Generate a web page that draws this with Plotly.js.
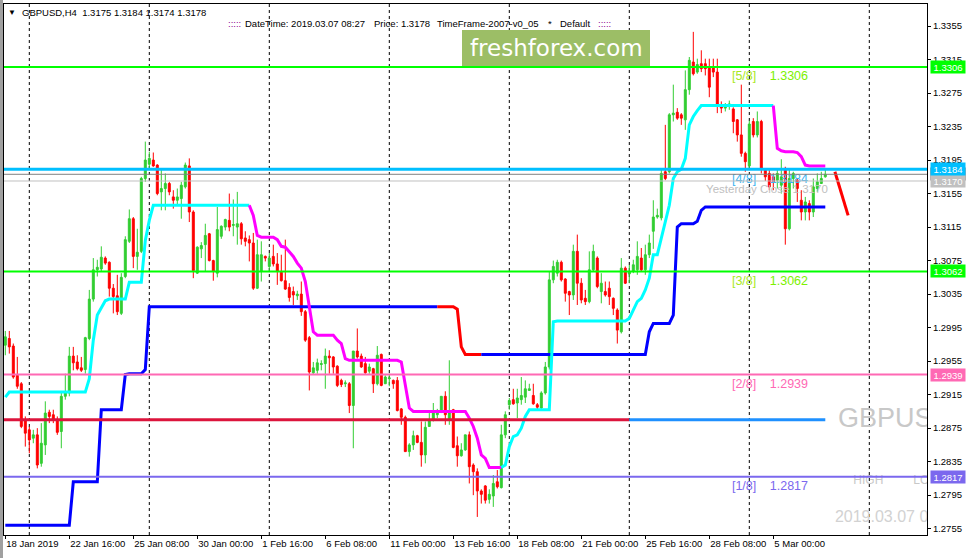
<!DOCTYPE html>
<html><head><meta charset="utf-8">
<script src="https://cdn.plot.ly/plotly-3.0.1.min.js"></script>
<style>html,body{margin:0;padding:0;background:#fff;overflow:hidden}#chart{width:970px;height:558px}</style>
</head><body><div id="chart"></div>
<script>
// ---- H4 candles, GBPUSD, 18 Jan 2019 00:00 .. 7 Mar 2019 ----
const openP = [
1.2974,1.2982,1.2973,1.2938,1.2928,1.2884,1.2873,1.2863,1.2867,1.2833,
1.2855,1.2894,1.2891,1.2885,1.2871,1.2913,1.2917,1.2961,1.2954,1.2947,
1.2945,1.2982,1.3029,1.3064,1.3065,1.3078,1.3073,1.3042,1.3033,1.3012,
1.3056,1.3098,1.3125,1.3080,1.3086,1.3173,1.3190,1.3195,1.3189,1.3157,
1.3161,1.3167,1.3151,1.3147,1.3149,1.3163,1.3188,1.3133,1.3060,1.3089,
1.3094,1.3107,1.3075,1.3060,1.3104,1.3115,1.3123,1.3117,1.3115,1.3119,
1.3102,1.3100,1.3096,1.3042,1.3062,1.3080,1.3068,1.3080,1.3071,1.3061,
1.3051,1.3043,1.3038,1.3033,1.3035,1.3014,1.2983,1.2941,1.2944,1.2951,
1.2952,1.2961,1.2960,1.2949,1.2932,1.2928,1.2928,1.2902,1.2967,1.2961,
1.2952,1.2943,1.2946,1.2928,1.2963,1.2928,1.2934,1.2932,1.2932,1.2898,
1.2888,1.2847,1.2855,1.2866,1.2858,1.2843,1.2877,1.2885,1.2891,1.2895,
1.2913,1.2885,1.2897,1.2854,1.2842,1.2849,1.2867,1.2831,1.2823,1.2800,
1.2806,1.2790,1.2794,1.2811,1.2804,1.2867,1.2903,1.2909,1.2905,1.2909,
1.2912,1.2920,1.2914,1.2903,1.2899,1.2917,1.2948,1.3052,1.3060,1.3073,
1.3053,1.3038,1.3034,1.3086,1.3048,1.3030,1.3026,1.3064,1.3078,1.3038,
1.3038,1.3042,1.3030,1.3016,1.2990,1.3066,1.3059,1.3062,1.3064,1.3078,
1.3064,1.3082,1.3110,1.3127,1.3126,1.3181,1.3181,1.3249,1.3252,1.3249,
1.3243,1.3279,1.3312,1.3300,1.3310,1.3310,1.3306,1.3306,1.3300,1.3261,
1.3257,1.3260,1.3256,1.3243,1.3225,1.3203,1.3188,1.3241,1.3225,1.3241,
1.3183,1.3179,1.3175,1.3171,1.3165,1.3185,1.3113,1.3173,1.3171,1.3147,
1.3133,1.3143,1.3133,1.3161,1.3167,1.3175];
const highP = [
1.2991,1.2991,1.2976,1.2960,1.2930,1.2889,1.2877,1.2873,1.2875,1.2881,
1.2907,1.2897,1.2897,1.2889,1.2917,1.2940,1.2972,1.2972,1.2962,1.2960,
1.2984,1.3040,1.3078,1.3076,1.3092,1.3080,1.3074,1.3047,1.3058,1.3060,
1.3104,1.3136,1.3127,1.3113,1.3175,1.3217,1.3205,1.3204,1.3190,1.3185,
1.3179,1.3169,1.3159,1.3161,1.3169,1.3192,1.3197,1.3135,1.3092,1.3097,
1.3119,1.3108,1.3076,1.3139,1.3117,1.3125,1.3155,1.3148,1.3157,1.3121,
1.3110,1.3105,1.3108,1.3100,1.3098,1.3081,1.3084,1.3094,1.3084,1.3082,
1.3100,1.3048,1.3044,1.3039,1.3050,1.3016,1.2985,1.2954,1.2958,1.2956,
1.2970,1.2968,1.2961,1.2950,1.2934,1.2932,1.2930,1.2967,1.2994,1.2964,
1.2960,1.2952,1.2947,1.2973,1.2964,1.2938,1.2940,1.2933,1.2936,1.2899,
1.2890,1.2857,1.2872,1.2867,1.2883,1.2883,1.2893,1.2905,1.2898,1.2913,
1.2919,1.2956,1.2898,1.2865,1.2857,1.2867,1.2871,1.2833,1.2827,1.2802,
1.2807,1.2802,1.2819,1.2825,1.2879,1.2895,1.2911,1.2922,1.2922,1.2936,
1.2932,1.2928,1.2928,1.2905,1.2919,1.2954,1.3062,1.3075,1.3076,1.3075,
1.3054,1.3039,1.3094,1.3106,1.3054,1.3040,1.3086,1.3094,1.3080,1.3060,
1.3050,1.3050,1.3031,1.3018,1.3078,1.3068,1.3070,1.3076,1.3098,1.3090,
1.3094,1.3106,1.3147,1.3137,1.3185,1.3237,1.3251,1.3285,1.3257,1.3251,
1.3302,1.3318,1.3348,1.3316,1.3326,1.3316,1.3316,1.3316,1.3316,1.3265,
1.3263,1.3266,1.3258,1.3244,1.3285,1.3205,1.3242,1.3245,1.3253,1.3243,
1.3185,1.3183,1.3179,1.3185,1.3196,1.3187,1.3185,1.3181,1.3173,1.3159,
1.3151,1.3147,1.3173,1.3179,1.3181,1.3184];
const lowP = [
1.2962,1.2964,1.2934,1.2922,1.2875,1.2853,1.2845,1.2857,1.2827,1.2829,
1.2843,1.2881,1.2881,1.2867,1.2851,1.2909,1.2913,1.2944,1.2944,1.2942,
1.2940,1.2980,1.3026,1.3056,1.3062,1.3070,1.3032,1.3012,1.3010,1.3010,
1.3054,1.3096,1.3066,1.3064,1.3084,1.3169,1.3183,1.3187,1.3153,1.3135,
1.3135,1.3153,1.3137,1.3141,1.3125,1.3161,1.3121,1.3054,1.3059,1.3078,
1.3062,1.3074,1.3051,1.3055,1.3101,1.3111,1.3110,1.3104,1.3094,1.3094,
1.3092,1.3074,1.3040,1.3041,1.3050,1.3074,1.3062,1.3068,1.3046,1.3050,
1.3040,1.3026,1.3022,1.3028,1.3009,1.2978,1.2920,1.2940,1.2940,1.2944,
1.2922,1.2940,1.2940,1.2924,1.2924,1.2924,1.2893,1.2851,1.2958,1.2947,
1.2940,1.2940,1.2917,1.2926,1.2925,1.2928,1.2925,1.2922,1.2895,1.2879,
1.2847,1.2841,1.2849,1.2857,1.2829,1.2833,1.2877,1.2883,1.2887,1.2893,
1.2879,1.2879,1.2851,1.2829,1.2841,1.2848,1.2809,1.2795,1.2769,1.2785,
1.2785,1.2785,1.2781,1.2803,1.2803,1.2863,1.2897,1.2903,1.2887,1.2903,
1.2905,1.2920,1.2903,1.2897,1.2897,1.2915,1.2945,1.3048,1.3056,1.3050,
1.3026,1.3010,1.3028,1.3022,1.3024,1.3022,1.3024,1.3062,1.3042,1.3024,
1.3032,1.3022,1.3010,1.2976,1.2988,1.3047,1.3048,1.3060,1.3058,1.3062,
1.3058,1.3078,1.3089,1.3125,1.3123,1.3171,1.3179,1.3241,1.3243,1.3237,
1.3231,1.3273,1.3296,1.3298,1.3300,1.3296,1.3270,1.3294,1.3251,1.3251,
1.3253,1.3255,1.3227,1.3217,1.3199,1.3181,1.3184,1.3222,1.3222,1.3179,
1.3170,1.3159,1.3159,1.3161,1.3155,1.3094,1.3111,1.3161,1.3145,1.3123,
1.3123,1.3123,1.3127,1.3157,1.3167,1.3174];
const closeP = [
1.2984,1.2972,1.2936,1.2925,1.2877,1.2869,1.2861,1.2867,1.2831,1.2857,
1.2893,1.2889,1.2885,1.2870,1.2913,1.2917,1.2961,1.2953,1.2946,1.2944,
1.2983,1.3029,1.3064,1.3067,1.3079,1.3072,1.3042,1.3032,1.3014,1.3055,
1.3100,1.3125,1.3080,1.3085,1.3173,1.3195,1.3197,1.3188,1.3155,1.3161,
1.3167,1.3157,1.3147,1.3151,1.3165,1.3189,1.3133,1.3063,1.3091,1.3093,
1.3105,1.3075,1.3062,1.3112,1.3116,1.3124,1.3115,1.3118,1.3119,1.3101,
1.3098,1.3096,1.3042,1.3082,1.3082,1.3078,1.3078,1.3071,1.3062,1.3051,
1.3041,1.3031,1.3034,1.3035,1.3014,1.2980,1.2942,1.2947,1.2953,1.2952,
1.2961,1.2959,1.2948,1.2926,1.2927,1.2929,1.2902,1.2967,1.2960,1.2948,
1.2941,1.2948,1.2928,1.2962,1.2926,1.2936,1.2935,1.2928,1.2896,1.2888,
1.2847,1.2855,1.2866,1.2858,1.2843,1.2876,1.2885,1.2893,1.2896,1.2913,
1.2891,1.2893,1.2852,1.2842,1.2849,1.2867,1.2829,1.2823,1.2800,1.2796,
1.2789,1.2796,1.2809,1.2805,1.2867,1.2891,1.2908,1.2904,1.2911,1.2914,
1.2922,1.2922,1.2904,1.2900,1.2917,1.2948,1.3052,1.3068,1.3073,1.3052,
1.3036,1.3034,1.3086,1.3048,1.3028,1.3026,1.3064,1.3086,1.3044,1.3048,
1.3034,1.3032,1.3018,1.2992,1.3066,1.3048,1.3062,1.3070,1.3080,1.3064,
1.3082,1.3096,1.3127,1.3129,1.3179,1.3173,1.3249,1.3251,1.3245,1.3245,
1.3279,1.3314,1.3298,1.3309,1.3304,1.3304,1.3282,1.3300,1.3261,1.3257,
1.3260,1.3262,1.3241,1.3225,1.3203,1.3193,1.3238,1.3225,1.3241,1.3185,
1.3175,1.3163,1.3169,1.3179,1.3175,1.3113,1.3173,1.3179,1.3161,1.3133,
1.3145,1.3133,1.3163,1.3169,1.3173,1.3178];

// ---- step indicator A (cyan up / magenta down), one value per bar ----
const stopA = [
1.2912,1.2918,1.2918,1.2918,1.2918,1.2918,1.2918,1.2918,1.2918,1.2918,
1.2918,1.2918,1.2918,1.2918,1.2918,1.2918,1.2918,1.2918,1.2918,1.2918,
1.2918,1.2934,1.2980,1.3010,1.3018,1.3027,1.3029,1.3029,1.3029,1.3029,
1.3029,1.3049,1.3049,1.3049,1.3049,1.3099,1.3123,1.3141,1.3141,1.3141,
1.3141,1.3141,1.3141,1.3141,1.3141,1.3141,1.3141,1.3141,1.3141,1.3141,
1.3141,1.3141,1.3141,1.3141,1.3141,1.3141,1.3141,1.3141,1.3141,1.3141,
1.3141,1.3141,1.3129,1.3105,1.3103,1.3103,1.3103,1.3103,1.3100,1.3092,
1.3091,1.3086,1.3080,1.3072,1.3066,1.3050,1.3022,1.2990,1.2986,1.2986,
1.2986,1.2986,1.2986,1.2980,1.2976,1.2958,1.2956,1.2956,1.2956,1.2956,
1.2956,1.2956,1.2956,1.2956,1.2956,1.2956,1.2956,1.2956,1.2956,1.2954,
1.2928,1.2899,1.2895,1.2895,1.2895,1.2895,1.2895,1.2895,1.2895,1.2895,
1.2895,1.2895,1.2895,1.2895,1.2895,1.2895,1.2887,1.2877,1.2863,1.2843,
1.2839,1.2828,1.2828,1.2828,1.2828,1.2831,1.2853,1.2865,1.2867,1.2875,
1.2889,1.2897,1.2897,1.2897,1.2897,1.2897,1.2897,1.3002,1.3003,1.3003,
1.3003,1.3003,1.3003,1.3003,1.3003,1.3003,1.3003,1.3003,1.3003,1.3003,
1.3003,1.3003,1.3003,1.3003,1.3003,1.3003,1.3006,1.3016,1.3026,1.3030,
1.3040,1.3054,1.3082,1.3082,1.3101,1.3121,1.3141,1.3173,1.3181,1.3184,
1.3197,1.3237,1.3247,1.3254,1.3260,1.3260,1.3260,1.3260,1.3260,1.3260,
1.3260,1.3260,1.3260,1.3260,1.3260,1.3260,1.3260,1.3260,1.3260,1.3260,
1.3260,1.3260,1.3260,1.3209,1.3206,1.3205,1.3205,1.3205,1.3204,1.3199,
1.3189,1.3188,1.3188,1.3188,1.3188,1.3188];
const stopARuns = [[0, 61, 'up'], [61, 124, 'down'], [124, 192, 'up'], [192, 205, 'down']];

// ---- step indicator B (blue up / red down) ----
const stopB = [
1.2759,1.2759,1.2759,1.2759,1.2759,1.2759,1.2759,1.2759,1.2759,1.2759,
1.2759,1.2759,1.2759,1.2759,1.2759,1.2759,1.2759,1.2811,1.2811,1.2811,
1.2811,1.2811,1.2811,1.2811,1.2897,1.2897,1.2897,1.2897,1.2897,1.2897,
1.2939,1.2940,1.2940,1.2940,1.2940,1.2945,1.3020,1.3020,1.3020,1.3020,
1.3020,1.3020,1.3020,1.3020,1.3020,1.3020,1.3020,1.3020,1.3020,1.3020,
1.3020,1.3020,1.3020,1.3020,1.3020,1.3020,1.3020,1.3020,1.3020,1.3020,
1.3020,1.3020,1.3020,1.3020,1.3020,1.3020,1.3020,1.3020,1.3020,1.3020,
1.3020,1.3020,1.3020,1.3020,1.3020,1.3020,1.3020,1.3020,1.3020,1.3020,
1.3020,1.3020,1.3020,1.3020,1.3020,1.3020,1.3020,1.3020,1.3020,1.3020,
1.3020,1.3020,1.3020,1.3020,1.3020,1.3020,1.3020,1.3020,1.3020,1.3020,
1.3020,1.3020,1.3020,1.3020,1.3020,1.3020,1.3020,1.3020,1.3020,1.3020,
1.3020,1.3020,1.3020,1.3017,1.2972,1.2963,1.2963,1.2963,1.2963,1.2963,
1.2963,1.2963,1.2963,1.2963,1.2963,1.2963,1.2963,1.2963,1.2963,1.2963,
1.2963,1.2963,1.2963,1.2963,1.2963,1.2963,1.2963,1.2963,1.2963,1.2963,
1.2963,1.2963,1.2963,1.2963,1.2963,1.2963,1.2963,1.2963,1.2963,1.2963,
1.2963,1.2963,1.2963,1.2963,1.2963,1.2963,1.2963,1.2963,1.2963,1.2963,
1.2963,1.2990,1.3000,1.3000,1.3000,1.3000,1.3000,1.3010,1.3115,1.3119,
1.3119,1.3119,1.3119,1.3122,1.3135,1.3139,1.3139,1.3139,1.3139,1.3139,
1.3139,1.3139,1.3139,1.3139,1.3139,1.3139,1.3139,1.3139,1.3139,1.3139,
1.3139,1.3139,1.3139,1.3139,1.3139,1.3139,1.3139,1.3139,1.3139,1.3139,
1.3139,1.3139,1.3139,1.3139,1.3139,1.3139];
const stopBRuns = [[0, 108, 'up'], [108, 119, 'down'], [119, 205, 'up']];

// ---- Murray Math levels ----
const murrayNames  = ['[5/8]', '[4/8]', '[3/8]', '[2/8]', '[1/8]'];
const murrayPrices = [1.3306, 1.3184, 1.3062, 1.2939, 1.2817];
const murrayLabels = ['1.3306', '1.3184', '1.3062', '1.2939', '1.2817'];

// ---- other levels ----
const pivotLevel = 1.2885;          // crimson (old week) then blue (this week)
const pivotSplitBar = 156;
const bidPrice = 1.3178;
const yesterdayClose = 1.3170;
const projBars = [207.4, 210.7];    // short red projection after last bar
const projPrices = [1.3181, 1.3129];

// ---- time axis ----
const tickBars = [0, 16, 32, 48, 64, 80, 96, 112, 128, 144, 160, 176, 192];
const tickLabels = ['18 Jan 2019', '22 Jan 16:00', '25 Jan 08:00', '30 Jan 00:00', '1 Feb 16:00',
  '6 Feb 08:00', '11 Feb 00:00', '13 Feb 16:00', '18 Feb 08:00', '21 Feb 00:00',
  '25 Feb 16:00', '28 Feb 08:00', '5 Mar 00:00'];
const weekStarts = [6, 36, 66, 96, 126, 156, 186, 216];

// ================= drawing =================
const bars = openP.map((_, i) => i);
const FONT = 'Liberation Sans, Arial, sans-serif';
const Y_TOP = 1.338126, Y_BOT = 1.274746;
const PPX = (Y_TOP - Y_BOT) / 531;          // price per pixel
// plot box in pixels: left 4, right 927, top 4, bottom 535
const PX = x => (x - 4) / 923;
const PY = y => (535 - y) / 531;

const traces = [];

// level texts (under candles)
const lblColor = ['#a8e81c', '#3cb4f0', '#a8e81c', '#ff69b4', '#7b68ee'];
const valColor = ['#7cf000', '#3cb4f0', '#7cf000', '#ff69b4', '#7b68ee'];
murrayPrices.forEach((p, k) => {
  const yy = p - 4 * PPX;
  traces.push({type: 'scatter', mode: 'text', x: [184.7, 195.9], y: [yy, yy],
    text: [murrayNames[k], murrayLabels[k]], textposition: 'bottom center',
    textfont: {family: FONT, size: 12.5, color: [lblColor[k], valColor[k]]},
    hoverinfo: 'skip', showlegend: false});
});
traces.push({type: 'scatter', mode: 'text', x: [175.2], y: [yesterdayClose - 3 * PPX],
  text: ['Yesterday Close ' + yesterdayClose.toFixed(4)], textposition: 'bottom right',
  textfont: {family: FONT, size: 11.5, color: '#c0c0c0'}, hoverinfo: 'skip', showlegend: false});
traces.push({type: 'scatter', mode: 'text', x: [208.2], y: [1.2885], text: ['GBPUSD'],
  textposition: 'middle right', textfont: {family: FONT, size: 27, color: '#c8c8c8'},
  hoverinfo: 'skip', showlegend: false});
traces.push({type: 'scatter', mode: 'text', x: [212.0, 227.0], y: [1.2812, 1.2812], text: ['HIGH', 'LOW'],
  textposition: 'middle right', textfont: {family: FONT, size: 12, color: '#c8c8c8'},
  hoverinfo: 'skip', showlegend: false});
traces.push({type: 'scatter', mode: 'text', x: [207.4], y: [1.2768], text: ['2019.03.07 08:27'],
  textposition: 'middle right', textfont: {family: FONT, size: 16, color: '#d2d2d2'},
  hoverinfo: 'skip', showlegend: false});

// candles
traces.push({type: 'candlestick', x: bars, open: openP, high: highP, low: lowP, close: closeP,
  increasing: {line: {color: '#32cd32', width: 1}, fillcolor: '#32cd32'},
  decreasing: {line: {color: '#ff0000', width: 1}, fillcolor: '#ff0000'},
  whiskerwidth: 0, hoverinfo: 'skip', showlegend: false});

// step indicators
function addRuns(vals, runs, upC, dnC) {
  runs.forEach(([s, e, d]) => {
    traces.push({type: 'scatter', mode: 'lines', x: bars.slice(s, e + 1), y: vals.slice(s, e + 1),
      line: {color: d === 'up' ? upC : dnC, width: 3}, hoverinfo: 'skip', showlegend: false});
  });
}
addRuns(stopB, stopBRuns, '#0000ff', '#ff0000');
addRuns(stopA, stopARuns, '#00ffff', '#ff00ff');

// pivot level lines
traces.push({type: 'scatter', mode: 'lines', x: [-1, pivotSplitBar], y: [pivotLevel, pivotLevel],
  line: {color: '#dc143c', width: 3}, hoverinfo: 'skip', showlegend: false});
traces.push({type: 'scatter', mode: 'lines', x: [pivotSplitBar, bars.length - 1], y: [pivotLevel, pivotLevel],
  line: {color: '#1e90ff', width: 3}, hoverinfo: 'skip', showlegend: false});
// projection
traces.push({type: 'scatter', mode: 'lines', x: projBars, y: projPrices,
  line: {color: '#ff0000', width: 3}, hoverinfo: 'skip', showlegend: false});

// shapes
const shapes = [];
weekStarts.forEach(w => shapes.push({type: 'line', xref: 'x', yref: 'paper', x0: w, x1: w, y0: 0, y1: 1,
  line: {color: '#000', width: 1, dash: '3px,3px'}, layer: 'below'}));
const mColors = ['#00ff00', '#00bfff', '#00ff00', '#ff69b4', '#7b68ee'];
const mWidths = [2, 3, 2, 2, 2];
shapes.push({type: 'line', xref: 'paper', x0: 0, x1: 1, yref: 'y', y0: yesterdayClose, y1: yesterdayClose,
  line: {color: '#c0c0c0', width: 1}, layer: 'above'});
shapes.push({type: 'line', xref: 'paper', x0: 0, x1: 1, yref: 'y', y0: bidPrice, y1: bidPrice,
  line: {color: '#808080', width: 1}, layer: 'above'});
murrayPrices.forEach((p, k) => shapes.push({type: 'line', xref: 'paper', x0: 0, x1: 1, yref: 'y', y0: p, y1: p,
  line: {color: mColors[k], width: mWidths[k]}, layer: 'above'}));
// watermark box
shapes.push({type: 'rect', xref: 'paper', yref: 'paper', x0: PX(462), x1: PX(650), y0: PY(66), y1: PY(30),
  fillcolor: '#9cbe66', line: {width: 0}, layer: 'above'});
// window frame strip
shapes.push({type: 'rect', xref: 'paper', yref: 'paper', x0: PX(0), x1: PX(3), y0: PY(558), y1: PY(0),
  fillcolor: '#a0a0a0', line: {width: 0}, layer: 'above'});

// annotations
const ann = [];
const hdr = (x, y, t, c, s) => ann.push({xref: 'paper', yref: 'paper', x: PX(x), y: PY(y), xanchor: 'left',
  yanchor: 'middle', text: t, showarrow: false, font: {family: FONT, size: s || 9.5, color: c || '#000'}});
hdr(6, 13, '\u25BC', '#000', 8);
hdr(20, 13, 'GBPUSD,H4\u00a0\u00a01.3175 1.3184 1.3174 1.3178');
hdr(226, 24, ':::::', '#8b008b');
hdr(243, 24, 'DateTime: 2019.03.07 08:27');
hdr(372, 24, 'Price: 1.3178');
hdr(435, 24, 'TimeFrame-2007-v0_05');
hdr(546, 24, '*');
hdr(558, 24, 'Default');
hdr(596, 24, ':::::', '#8b008b');
ann.push({xref: 'paper', yref: 'paper', x: PX(556), y: PY(48), xanchor: 'center', yanchor: 'middle',
  text: 'freshforex.com', showarrow: false, font: {family: 'DejaVu Sans, sans-serif', size: 23, color: '#ffffff'}});
// right-side price tags
const tag = (p, bg) => ann.push({xref: 'paper', yref: 'y', x: 1, xshift: 3, y: p, xanchor: 'left', yanchor: 'middle',
  text: p.toFixed(4), showarrow: false, bgcolor: bg, width: 34, height: 12, borderpad: 0,
  font: {family: FONT, size: 9.5, color: '#ffffff'}});
tag(bidPrice, '#505050');
tag(yesterdayClose, '#c0c0c0');
murrayPrices.forEach((p, k) => tag(p, mColors[k]));

const layout = {
  width: 970, height: 558,
  margin: {l: 4, r: 43, t: 4, b: 23, pad: 0},
  paper_bgcolor: '#ffffff', plot_bgcolor: '#ffffff',
  showlegend: false,
  xaxis: {range: [-0.325, 230.425], rangeslider: {visible: false}, showgrid: false, zeroline: false,
    showline: true, linecolor: '#000', linewidth: 1, mirror: true,
    tickmode: 'array', tickvals: tickBars, ticktext: tickLabels, ticks: 'outside', ticklen: 3,
    tickcolor: '#000', ticklabelposition: 'outside right', tickangle: 0, automargin: false,
    tickfont: {family: FONT, size: 9.5, color: '#000'}, fixedrange: true},
  yaxis: {range: [Y_BOT, Y_TOP], side: 'right', showgrid: false, zeroline: false,
    showline: true, linecolor: '#000', linewidth: 1, mirror: true, automargin: false,
    tick0: 1.2755, dtick: 0.004, tickformat: '.4f', ticks: 'outside', ticklen: 3, tickcolor: '#000',
    tickfont: {family: FONT, size: 9.5, color: '#000'}, fixedrange: true},
  shapes: shapes, annotations: ann
};
Plotly.newPlot('chart', traces, layout, {displayModeBar: false, staticPlot: true});
</script></body></html>
